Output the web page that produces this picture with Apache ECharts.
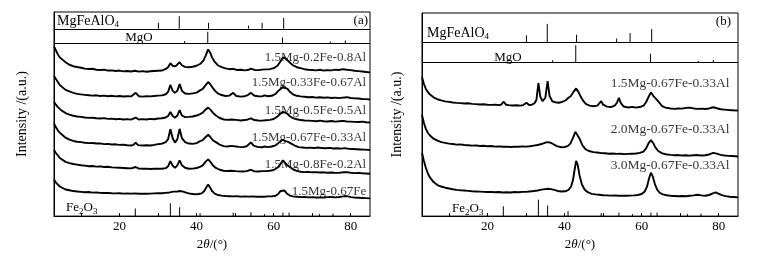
<!DOCTYPE html>
<html>
<head>
<meta charset="utf-8">
<script src="https://cdn.jsdelivr.net/npm/echarts@6/dist/echarts.min.js"></script>
<style>
html, body { margin: 0; padding: 0; background: #fff; }
#chart { width: 774px; height: 256px; }
</style>
</head>
<body>
<div id="chart"></div>
<script>
// axis ticks / labels (2theta, degrees)
const tickLabels = [20, 40, 60, 80];
const tickMarks = [10, 20, 30, 40, 50, 60, 70, 80];

// sample names, top to bottom
const namesA = ['1.5Mg-0.2Fe-0.8Al', '1.5Mg-0.33Fe-0.67Al', '1.5Mg-0.5Fe-0.5Al',
  '1.5Mg-0.67Fe-0.33Al', '1.5Mg-0.8Fe-0.2Al', '1.5Mg-0.67Fe'];
const namesB = ['1.5Mg-0.67Fe-0.33Al', '2.0Mg-0.67Fe-0.33Al', '3.0Mg-0.67Fe-0.33Al'];

// stacking offsets of each pattern (a.u.)
const offsetsA = [145, 118, 95, 67, 43, 18];
const offsetsB = [107, 60.5, 19];
// height of each sample label (a.u.)
const labelYA = [161, 135, 107.5, 80, 52.5, 25];
const labelYB = [135, 88, 51.5];

// XRD patterns: [2theta, intensity above own baseline]
const a1 = [[3,27],[3.5,23],[4,19],[4.5,16],[5,14],[6,11],[7,8.5],[8,7],[9,6.2],[10,5.5],[11,4.6],[12,4.2],[13,4.4],[14,3.4],[15,3.2],[16,3.5],[17,2.6],[18,2.8],[19,2.2],[20,2.6],[21,1.8],[22,2.2],[23,1.6],[24,2.4],[25,1.5],[26,2],[27,1.4],[28,1.9],[29,2.2],[30,2.4],[31,2.6],[32,4.2],[32.6,6],[33.2,10],[33.8,7.5],[34.5,6.8],[35,8],[35.6,11],[36.2,8],[37,6.4],[38,6],[39,6.5],[40,7.5],[41,9.5],[41.8,13],[42.4,18],[43,24],[43.5,21],[44,16],[44.6,12],[45.5,8],[46.5,6],[47.5,4.8],[48.5,4],[49.5,4.4],[50.5,3.2],[51.5,3.4],[52.5,2.8],[53.5,3.4],[54.1,4.5],[55,3.2],[56,3],[57,3.6],[58,3.8],[59,4],[60,5],[61,7.5],[61.8,12],[62.4,16],[63,15],[63.6,13],[64.4,10],[65,8],[66,6],[67,5],[68,4],[69,3.4],[70,3.2],[71,2.8],[72,3.4],[73,2.6],[74,3],[75,2.8],[76,3.5],[77,3.2],[78,4],[79,3.4],[80,3],[81,2.4],[82,2],[83,1.6],[84,1.2],[85,0.8]];
const a2 = [[3,24],[3.5,21],[4,18],[4.5,15],[5,13],[6,10],[7,8.4],[8,7],[9,6],[10,5.4],[11,5],[12,4.6],[13,4.2],[14,4.5],[15,3.8],[16,4.2],[17,3.6],[18,4],[19,3.4],[20,3.8],[21,3.3],[22,3.6],[23,3.4],[24.2,7],[25,3.6],[26,3.2],[27,3.6],[28,3.4],[29,3.8],[30,4.2],[31,4.4],[32,5.6],[32.6,8],[33.2,15],[33.8,9],[34.4,7],[35,9],[35.6,16],[36.2,9],[37,6.4],[38,6],[39,6.5],[40,7.2],[40.9,9.5],[41.6,11],[42.2,14],[43,18],[43.6,15.5],[44.2,12],[44.8,9],[45.5,6.5],[46.5,4.8],[47.5,3.8],[48.5,4.2],[49.5,7],[50.3,3.8],[51.5,3.2],[52.5,3.6],[53.3,4.8],[54.1,7],[55,4],[56,3.6],[57,3.4],[57.6,4.4],[58.5,3.6],[59.5,4],[60.5,6],[61.2,9],[61.8,11],[62.4,13],[63,12],[63.6,11],[64.2,8],[65,5.5],[66,4],[67,3.4],[68,3],[69,2.6],[70,2.8],[71,2.2],[72,2.6],[73,2],[74,2.4],[75,1.8],[76,2.2],[77,1.6],[78,2.2],[79,2.6],[80,1.8],[81,1.4],[82,1.2],[83,0.8],[84,0.6],[85,0.2]];
const a3 = [[3,21],[3.5,18],[4,15.5],[4.5,13.5],[5,12],[6,9.5],[7,8],[8,6.8],[9,6],[10,5.6],[11,5],[12,4.6],[13,4.8],[14,4.2],[15,4],[16,4.4],[17,3.6],[18,3.9],[19,3.2],[20,3.6],[21,3],[22,3.4],[23,2.9],[24.2,4.8],[25,3],[26,3.4],[27,3],[28,3.6],[29,3.2],[30,4],[31,4.2],[32,5],[32.6,6.5],[33.2,10.5],[33.8,6.5],[34.4,4.8],[35,7],[35.6,12.5],[36.2,7],[37,5.4],[38,5.6],[39,6],[40,7],[40.9,8.4],[41.6,10],[42.3,13],[43,15],[43.6,13],[44.2,10],[45,7],[46,4.5],[47,3],[48,2.6],[49,3],[49.5,4.2],[50.3,2.6],[51.5,2],[52.5,2.4],[53.3,3],[54.1,4.2],[55,2.4],[56,2],[57,1.8],[58,2.2],[59,2.6],[60,3.5],[61,6],[61.8,9],[62.4,10.7],[63,10],[63.6,8.5],[64.3,6],[65,4.4],[66,3.2],[67,2.4],[68,2],[69,1.8],[70,1.6],[71,1.2],[72,1.8],[73,1.2],[74,1],[75,1.4],[76,0.8],[77,1.2],[78,1.6],[79,1],[80,0.8],[81,0.6],[82,0.4],[83,0.8],[84,0.2],[85,0]];
const a4 = [[3,27],[3.5,23],[4,20],[4.5,17.5],[5,15.5],[6,12.5],[7,10.5],[8,9.2],[9,8.4],[10,8],[11,7.4],[12,7],[13,7.2],[14,6.6],[15,6.8],[16,6],[17,6.2],[18,5.6],[19,5.8],[20,5.2],[21,5.4],[22,4.8],[23,4.6],[23.6,5.2],[24.2,7.5],[24.8,5],[26,4.6],[27,4.8],[28,4.6],[29,5.2],[30,6],[31,6.4],[32,8],[32.6,11],[33.2,21],[33.8,12],[34.4,7.5],[35,11],[35.6,21.5],[36.2,12],[37,8],[38,6.6],[39,6.2],[40,7],[40.9,9],[41.6,10],[42.3,13],[43,15.5],[43.6,13],[44.2,10],[45,8],[46,5.5],[47,4],[48,3.6],[49,4.2],[49.5,6.2],[50.2,3.6],[51,3.2],[52,3],[53,3.8],[53.5,5],[54.1,7.8],[54.8,4.4],[56,3],[57,2.8],[57.6,3.6],[58.5,3],[59.5,3.6],[60.5,4.8],[61.2,7],[61.8,9],[62.4,10.5],[63,9],[63.6,8.5],[64.1,8],[64.8,6],[65.5,4.5],[66.5,3],[67.5,2.6],[68.5,2.2],[69.5,2.4],[70.5,2],[71.5,2.6],[72.5,2],[73.5,1.8],[74.5,2.2],[75.5,1.6],[76.5,1.8],[77.5,1.4],[78.5,2],[79.5,1.2],[80.5,1],[81.5,0.8],[82.5,0.6],[83.5,0.4],[85,0]];
const a5 = [[3,24],[3.5,21],[4,18.5],[4.5,16],[5,14.5],[6,12],[7,10.8],[8,9.8],[9,9.2],[10,8.6],[11,8.2],[12,7.6],[13,7.8],[14,7.2],[15,7.4],[16,6.8],[17,7],[18,6.4],[19,6.2],[20,6],[21,5.8],[22,5.6],[23,5.4],[24.2,6.8],[25,5.2],[26,5],[27,5.2],[28,4.8],[29,5],[30,5.2],[31,5],[32,5.6],[32.6,7.5],[33.2,12.7],[33.8,8],[34.4,6],[35,8.5],[35.6,13.5],[36.2,8.5],[37,6],[38,5],[39,5.2],[40,5.8],[40.9,7],[41.6,8.5],[42.3,12],[43,14.5],[43.6,12],[44.2,8.5],[45,5.8],[46,4],[47,3],[48,2.8],[49,3],[49.5,3.6],[50.2,2.6],[51,2.4],[52,2.2],[53,2.6],[54.1,4],[55,2.4],[56,2.2],[57,2.6],[58,2.6],[59,3],[60,3.8],[61,6],[61.8,10],[62.4,13.5],[63,11],[63.6,8.5],[64.3,6.5],[65,4.5],[66,2.8],[67,2],[68,1.6],[69,1.8],[70,1.4],[71,1.6],[72,1.2],[73,1.4],[74,1],[75,1.2],[76,0.8],[77,1],[78,1.4],[79,1.6],[80,1],[81,0.6],[82,0.8],[83,0.4],[84,0.2],[85,0]];
const a6 = [[3,19],[3.5,16],[4,14],[4.5,12],[5,11],[6,9],[7,8.2],[8,7.4],[9,7],[10,6.6],[11,6.2],[12,6.4],[13,5.8],[14,6],[15,5.6],[16,5.4],[17,5.6],[18,5.2],[19,5],[20,5.2],[21,4.8],[22,5],[23,4.8],[24,5],[25,4.6],[26,4.8],[27,4.6],[28,4.8],[29,5],[30,5.2],[31,5.2],[32,5.6],[33,6],[34,6.8],[35,7],[35.6,7.4],[36.5,6.8],[37.5,5.6],[38.5,4.6],[39.5,4.2],[40.5,4.4],[41.3,5],[42,7.5],[42.5,11],[43,14],[43.5,11],[44,7.5],[44.7,4.8],[45.5,3.4],[46.5,2.8],[47.5,2.4],[48.5,2.2],[49.5,2],[50.5,2.2],[51.5,1.8],[52.5,2],[53.5,1.8],[54.5,2],[55.5,1.6],[56.5,1.8],[57.5,1.6],[58.5,2],[59.5,2],[60.5,2.6],[61.2,4.5],[61.8,7.5],[62.3,9.5],[62.8,8],[63.4,5],[64.2,2.8],[65,2],[66,1.6],[67,1.2],[68,1.4],[69,1],[70,1.2],[71,0.8],[72,1],[73,0.8],[74,1.2],[75,1.4],[76,1],[77,1.4],[78,2],[78.6,2.4],[79.3,2],[80,1.2],[81,0.8],[82,0.6],[83,0.4],[84,0.2],[85,0]];

const b1 = [[3,34],[3.5,27],[4,22],[4.5,19],[5,16.5],[6,13.5],[7,11.5],[8,10.4],[9,9.4],[10,8.8],[11,8.2],[12,7.8],[13,7.6],[14,7.2],[15,7.4],[16,6.8],[17,6.6],[18,6.2],[19,6.4],[20,6],[21,5.8],[22,6],[23,5.6],[23.6,6.2],[24.2,9],[24.8,6],[25.5,5.6],[26.5,5.2],[27.5,5.4],[28.5,5],[29.3,5.6],[30.1,8],[30.8,5.6],[31.5,6],[32.2,7.5],[32.7,11],[33.2,28],[33.7,14],[34.3,9.5],[35,13],[35.6,30],[36.1,15],[36.8,9.5],[37.5,8.5],[38.5,8],[39.5,9],[40.3,10.5],[41,13],[41.6,14.5],[42.3,19],[43,22.5],[43.6,19],[44.2,14],[44.9,9.5],[45.6,6.5],[46.5,5],[47.5,4.4],[48.5,5],[49,6.5],[49.5,9.5],[50,6],[51,4],[52,3.6],[53,5],[53.6,8],[54.1,13],[54.6,7.5],[55.3,4.2],[56.5,3.2],[57.6,3.8],[58.5,3],[59.5,3.6],[60.5,5],[61.2,9],[61.8,14],[62.4,18.5],[63,15],[63.6,12.5],[64.1,12],[64.6,8],[65.3,4.5],[66.2,3],[67.5,2.2],[68.5,1.8],[69.5,2.2],[70.5,2],[71.5,2.8],[72.5,3],[73.5,2.2],[74.5,1.8],[75.5,2],[76.5,1.6],[77.5,2.2],[78.6,3.4],[79.5,2.4],[80.5,1.4],[81.5,1],[82.5,0.6],[83.5,0.4],[85,0]];
const b2 = [[3,42],[3.5,34],[4,28],[4.5,24],[5,21.5],[6,18],[7,16],[8,14.6],[9,13.8],[10,13],[11,12.6],[12,12],[13,12.2],[14,11.6],[15,11.4],[16,11],[17,11.2],[18,10.6],[19,10.8],[20,10.4],[21,10.6],[22,10],[23,10.2],[24,9.8],[25,10],[26,9.6],[27,10],[28,9.8],[29,10.2],[30,10],[31,10.4],[32,11],[33,11.6],[34,12.6],[35,14],[35.6,14.6],[36.3,14],[37,12.6],[38,10.5],[39,9.4],[40,9.6],[40.8,10.5],[41.5,13],[42.2,19],[42.8,25],[43.3,24],[43.9,18],[44.6,11.5],[45.4,7.5],[46.3,5.5],[47.5,4.4],[48.5,4],[49.5,3.4],[50.5,3.2],[51.5,2.8],[52.5,3],[53.5,2.6],[54.5,2.8],[55.5,2.4],[56.5,2.6],[57.5,2.8],[58.5,3],[59.5,3.6],[60.5,5],[61.2,8.5],[61.8,13.5],[62.4,16.5],[63,13.5],[63.6,9],[64.3,5.5],[65.2,3.4],[66.2,2.2],[67.5,1.6],[68.5,1.2],[69.5,1.4],[70.5,1],[71.5,1.2],[72.5,0.8],[73.5,1.2],[74.5,1.4],[75.5,1],[76.5,1.2],[77.5,2],[78.6,3.6],[79.5,2.8],[80.5,1.6],[81.5,1],[82.5,0.6],[83.5,0.4],[85,0]];
const b3 = [[3,45],[3.5,37],[4,30],[4.5,24.5],[5,20.5],[6,15.5],[7,12.5],[8,11],[9,9.8],[10,9],[11,8.2],[12,7.6],[13,7.2],[14,7],[15,6.6],[16,6.2],[17,6],[18,5.8],[19,5.6],[20,5.4],[21,5.6],[22,5.2],[23,5.4],[24,5],[25,5.2],[26,5],[27,5.4],[28,5.2],[29,5.6],[30,5.6],[31,6],[32,6.4],[33,7],[34,7.8],[35,8.4],[35.8,8.8],[36.5,8.4],[37.3,7.6],[38.2,6.5],[39.2,6],[40.2,6.2],[41,7.5],[41.7,11],[42.2,18],[42.6,28],[43,37],[43.4,33],[43.9,22],[44.5,13],[45.2,8],[46,5.2],[47,3.6],[48,3],[49,2.6],[50,2.2],[51,2],[52,1.8],[53,2],[54,1.6],[55,1.8],[56,1.6],[57,1.8],[58,2],[59,2.4],[60,3.4],[60.8,6],[61.4,11],[61.9,19],[62.4,25],[62.9,21],[63.4,14],[64,8],[64.7,4.5],[65.5,3],[66.5,2.2],[67.5,1.6],[68.5,1.4],[69.5,1.2],[70.5,1.4],[71.5,1.2],[72.5,1.6],[73.5,2],[74.5,2.6],[75.5,2],[76.5,1.6],[77.5,2.4],[78.5,4],[79.2,5],[79.9,3.8],[80.8,2.2],[81.8,1.2],[82.8,0.6],[83.8,0.4],[85,0]];

// reference stick patterns: [2theta, relative height]
const spinelA = [[30.1,6],[35.5,12.7],[43.1,6],[53.5,3.3],[57.0,6],[62.6,11]];
const mgoA = [[36.9,2.5],[42.9,12],[62.3,6],[74.7,2],[78.6,3]];
const hematiteA = [[24.1,7.7],[33.2,13],[35.6,9],[40.9,3],[49.5,3.5],[54.1,4],[57.6,2],[62.4,3.5],[64.0,3.5],[71.9,2],[75.4,2.5]];
const spinelB = [[30.1,7],[35.5,18.7],[43.1,7.7],[53.5,3.7],[57.0,9.3],[62.6,13.3]];
const mgoB = [[36.9,2.3],[42.9,17.7],[62.3,9],[74.7,1.7],[78.6,2.7]];
const hematiteB = [[24.1,10],[33.2,16.7],[35.6,10.7],[40.9,5],[49.5,3],[54.1,3.5],[57.6,2],[62.4,3.5],[64.0,3.5],[71.9,2],[75.4,2.5]];

const FONT = 'Liberation Serif';
const chart = echarts.init(document.getElementById('chart'));

function sticks(idx, data, base) {
  return {
    type: 'custom', xAxisIndex: idx, yAxisIndex: idx, silent: true,
    data: data,
    renderItem: function (params, api) {
      const p0 = api.coord([api.value(0), base]);
      const p1 = api.coord([api.value(0), base + api.value(1)]);
      return {
        type: 'line',
        shape: { x1: p0[0], y1: p0[1], x2: p1[0], y2: p1[1] },
        style: { stroke: '#000', lineWidth: 1 }
      };
    }
  };
}

function patterns(idx, list, offsets, bands) {
  return list.map(function (pts, i) {
    const s = {
      type: 'line', xAxisIndex: idx, yAxisIndex: idx, silent: true,
      showSymbol: false, symbol: 'none',
      data: pts.map(p => [p[0], p[1] + offsets[i]]),
      lineStyle: { color: '#000', width: 1.9 }
    };
    if (i === 0) {
      s.markLine = {
        silent: true, symbol: ['none', 'none'], label: { show: false },
        lineStyle: { color: '#000', width: 1, type: 'solid' },
        data: bands.map(v => ({ yAxis: v }))
      };
    }
    return s;
  });
}

function sampleLabels(idx, names, ys, x, size) {
  return {
    type: 'scatter', xAxisIndex: idx, yAxisIndex: idx, silent: true,
    symbolSize: 0,
    data: names.map((n, i) => ({ name: n, value: [x, ys[i]] })),
    label: {
      show: true, position: 'left', distance: 0, formatter: '{b}',
      color: '#000', fontFamily: FONT, fontSize: size
    }
  };
}

function xAxis(idx) {
  return {
    type: 'value', gridIndex: idx, min: 3, max: 85,
    axisLine: { show: true, lineStyle: { color: '#000', width: 1 } },
    axisTick: { show: true, inside: true, length: 3, customValues: tickMarks,
      lineStyle: { color: '#000' } },
    axisLabel: { customValues: tickLabels, margin: 4, color: '#000',
      fontFamily: FONT, fontSize: 13 },
    splitLine: { show: false },
    name: '2{i|θ}/(°)', nameLocation: 'middle', nameGap: 20,
    nameTextStyle: { color: '#000', fontFamily: FONT, fontSize: 13,
      rich: { i: { fontStyle: 'italic', fontFamily: FONT, fontSize: 13, color: '#000' } } }
  };
}

function yAxis(idx, max, gap) {
  return {
    type: 'value', gridIndex: idx, min: 0, max: max,
    axisLine: { show: true, lineStyle: { color: '#000', width: 1 } },
    axisTick: { show: false }, axisLabel: { show: false }, splitLine: { show: false },
    name: 'Intensity /(a.u.)', nameLocation: 'middle', nameGap: gap,
    nameTextStyle: { color: '#000', fontFamily: FONT, fontSize: 14 }
  };
}

function txt(x, y, text, align, size) {
  return {
    type: 'text', x: x, y: y, silent: true,
    style: {
      text: text, fill: '#000', fontFamily: FONT, fontSize: size || 13,
      textAlign: align || 'left', textVerticalAlign: 'middle',
      align: align || 'left', verticalAlign: 'middle',
      rich: { s: { fontFamily: FONT, fontSize: 9, fill: '#000', padding: [8, 0, 0, 0] } }
    }
  };
}

const option = {
  animation: false,
  backgroundColor: '#fff',
  grid: [
    { left: 54, top: 12, width: 316, height: 207, show: true, borderColor: '#000', borderWidth: 1 },
    { left: 422, top: 13, width: 316, height: 206, show: true, borderColor: '#000', borderWidth: 1 }
  ],
  xAxis: [xAxis(0), xAxis(1)],
  yAxis: [yAxis(0, 207, 25), yAxis(1, 206, 18)],
  series: [].concat(
    patterns(0, [a1, a2, a3, a4, a5, a6], offsetsA, [190, 175]),
    patterns(1, [b1, b2, b3], offsetsB, [176.3, 155.7]),
    [
      sticks(0, spinelA, 190), sticks(0, mgoA, 175), sticks(0, hematiteA, 0),
      sticks(1, spinelB, 176.3), sticks(1, mgoB, 155.7), sticks(1, hematiteB, 0),
      sampleLabels(0, namesA, labelYA, 84, 13),
      sampleLabels(1, namesB, labelYB, 82.8, 13.5)
    ]
  ),
  graphic: [
    txt(57, 21, 'MgFeAlO{s|4}', 'left', 14),
    txt(368, 21, '(a)', 'right', 13),
    txt(139, 38, 'MgO', 'center', 13),
    txt(66, 208, 'Fe{s|2}O{s|3}', 'left', 13),
    txt(427, 33, 'MgFeAlO{s|4}', 'left', 14),
    txt(731, 22, '(b)', 'right', 13),
    txt(508, 58, 'MgO', 'center', 13),
    txt(452, 209, 'Fe{s|2}O{s|3}', 'left', 13)
  ]
};

chart.setOption(option);
</script>
</body>
</html>
